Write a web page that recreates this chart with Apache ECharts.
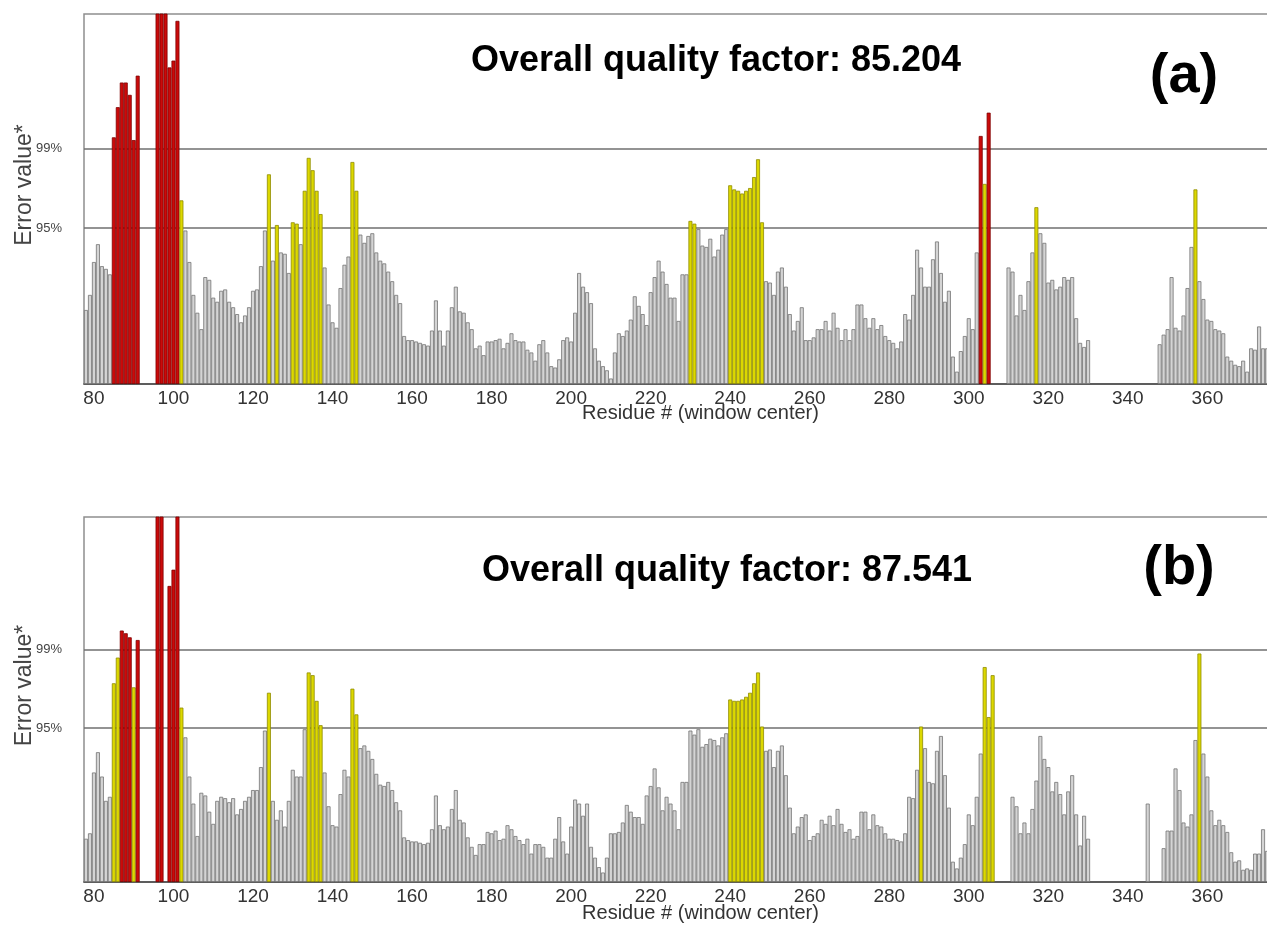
<!DOCTYPE html>
<html>
<head>
<meta charset="utf-8">
<script src="https://cdn.jsdelivr.net/npm/echarts@6/dist/echarts.min.js"></script>
<style>
  html, body { margin: 0; padding: 0; background: #ffffff; }
  #chart { width: 1267px; height: 945px; }
</style>
</head>
<body>
<div id="chart"></div>
<script>
// ---------------- data ----------------
const residueFirst = 78;
const residueLast = 375;
const xTickLabels = [80, 100, 120, 140, 160, 180, 200, 220, 240, 260, 280, 300, 320, 340, 360];
const thresholds = [11.38, 17.19];
const thresholdLabels = ['95%', '99%'];
const titleA = 'Overall quality factor: 85.204';
const titleB = 'Overall quality factor: 87.541';
const panelTagA = '(a)';
const panelTagB = '(b)';
const yName = 'Error value*';
const xName = 'Residue # (window center)';

// error values, residues 78..375 (null = no window)
const errA = [
  5.4, 6.5, 8.9, 10.2, 8.6, 8.4, 8.0, 18.0, 20.2, 22.0,        // 78-87
  22.0, 21.1, 17.8, 22.5, null, null, null, null, 27.5, 27.5,  // 88-97
  27.5, 23.1, 23.6, 26.5, 13.4, 11.2, 8.9, 6.5, 5.2, 4.0,      // 98-107
  7.8, 7.6, 6.3, 6.0, 6.8, 6.9, 6.0, 5.6, 5.1, 4.5,            // 108-117
  5.0, 5.6, 6.8, 6.9, 8.6, 11.2, 15.3, 9.0, 11.6, 9.6,         // 118-127
  9.5, 8.1, 11.8, 11.7, 10.2, 14.1, 16.5, 15.6, 14.1, 12.4,    // 128-137
  8.5, 5.8, 4.5, 4.1, 7.0, 8.7, 9.3, 16.2, 14.1, 10.9,         // 138-147
  10.3, 10.8, 11.0, 9.6, 9.0, 8.8, 8.2, 7.5, 6.5, 5.9,         // 148-157
  3.5, 3.2, 3.2, 3.1, 3.0, 2.9, 2.8, 3.9, 6.1, 3.9,            // 158-167
  2.8, 3.9, 5.6, 7.1, 5.3, 5.2, 4.5, 4.0, 2.6, 2.8,            // 168-177
  2.1, 3.1, 3.1, 3.2, 3.3, 2.6, 3.0, 3.7, 3.2, 3.1,            // 178-187
  3.1, 2.5, 2.3, 1.7, 2.9, 3.2, 2.3, 1.3, 1.2, 1.8,            // 188-197
  3.2, 3.4, 3.1, 5.2, 8.1, 7.1, 6.7, 5.9, 2.6, 1.7,            // 198-207
  1.3, 1.0, 0.4, 2.3, 3.7, 3.5, 3.9, 4.7, 6.4, 5.7,            // 208-217
  5.1, 4.3, 6.7, 7.8, 9.0, 8.2, 7.3, 6.3, 6.3, 4.6,            // 218-227
  8.0, 8.0, 11.9, 11.7, 11.3, 10.1, 10.0, 10.6, 9.3, 9.8,      // 228-237
  10.9, 11.3, 14.5, 14.2, 14.1, 13.9, 14.1, 14.3, 15.1, 16.4,  // 238-247
  11.8, 7.5, 7.4, 6.5, 8.2, 8.5, 7.1, 5.1, 3.9, 4.6,           // 248-257
  5.6, 3.2, 3.2, 3.4, 4.0, 4.0, 4.6, 3.9, 5.2, 4.1,            // 258-267
  3.2, 4.0, 3.2, 4.0, 5.8, 5.8, 4.8, 4.1, 4.8, 4.0,            // 268-277
  4.3, 3.5, 3.2, 3.0, 2.6, 3.1, 5.1, 4.7, 6.5, 9.8,            // 278-287
  8.5, 7.1, 7.1, 9.1, 10.4, 8.1, 6.0, 6.8, 2.0, 0.9,           // 288-297
  2.4, 3.5, 4.8, 4.0, 9.6, 18.1, 14.6, 19.8, null, null,       // 298-307
  null, null, 8.5, 8.2, 5.0, 6.5, 5.4, 7.5, 9.6, 12.9,         // 308-317
  11.0, 10.3, 7.4, 7.6, 6.9, 7.1, 7.8, 7.6, 7.8, 4.8,          // 318-327
  3.0, 2.7, 3.2, null, null, null, null, null, null, null,     // 328-337
  null, null, null, null, null, null, null, null, null, null,  // 338-347
  2.9, 3.6, 4.0, 7.8, 4.1, 3.9, 5.0, 7.0, 10.0, 14.2,          // 348-357
  7.5, 6.2, 4.7, 4.6, 4.0, 3.9, 3.7, 2.0, 1.7, 1.4,            // 358-367
  1.3, 1.7, 0.9, 2.6, 2.5, 4.2, 2.6, 2.6                       // 368-375
];

const errB = [
  3.2, 3.6, 8.1, 9.6, 7.8, 6.0, 6.3, 14.7, 16.6, 18.6,         // 78-87
  18.4, 18.1, 14.4, 17.9, null, null, null, null, 27.5, 27.5,  // 88-97
  null, 21.9, 23.1, 27.5, 12.9, 10.7, 7.8, 5.8, 3.4, 6.6,      // 98-107
  6.4, 5.2, 4.3, 6.0, 6.3, 6.2, 5.9, 6.2, 5.0, 5.4,            // 108-117
  6.0, 6.3, 6.8, 6.8, 8.5, 11.2, 14.0, 6.0, 4.6, 5.3,          // 118-127
  4.1, 6.0, 8.3, 7.8, 7.8, 11.3, 15.5, 15.3, 13.4, 11.6,       // 128-137
  8.1, 5.6, 4.2, 4.1, 6.5, 8.3, 7.8, 14.3, 12.4, 9.9,          // 138-147
  10.1, 9.7, 9.1, 8.0, 7.2, 7.1, 7.4, 6.8, 5.9, 5.3,           // 148-157
  3.3, 3.1, 3.0, 3.0, 2.9, 2.8, 2.9, 3.9, 6.4, 4.2,            // 158-167
  3.9, 4.1, 5.4, 6.8, 4.6, 4.4, 3.3, 2.6, 2.0, 2.8,            // 168-177
  2.8, 3.7, 3.6, 3.8, 3.1, 3.2, 4.2, 3.9, 3.4, 3.1,            // 178-187
  2.8, 3.2, 2.1, 2.8, 2.8, 2.6, 1.8, 1.8, 3.2, 4.8,            // 188-197
  3.0, 2.1, 4.1, 6.1, 5.8, 4.9, 5.8, 2.6, 1.8, 1.1,            // 198-207
  0.7, 1.8, 3.6, 3.6, 3.7, 4.4, 5.7, 5.2, 4.8, 4.8,            // 208-217
  4.3, 6.4, 7.1, 8.4, 7.0, 5.3, 6.3, 5.8, 5.3, 3.9,            // 218-227
  7.4, 7.4, 11.2, 10.9, 11.3, 10.0, 10.2, 10.6, 10.5, 10.1,    // 228-237
  10.7, 11.0, 13.5, 13.4, 13.4, 13.5, 13.7, 14.0, 14.7, 15.5,  // 238-247
  11.5, 9.7, 9.8, 8.5, 9.7, 10.1, 7.9, 5.5, 3.6, 4.1,          // 248-257
  4.8, 5.0, 3.1, 3.4, 3.6, 4.6, 4.3, 4.9, 4.2, 5.4,            // 258-267
  4.3, 3.7, 3.9, 3.2, 3.4, 5.2, 5.2, 3.9, 5.0, 4.2,            // 268-277
  4.1, 3.6, 3.2, 3.2, 3.1, 3.0, 3.6, 6.3, 6.2, 8.3,            // 278-287
  11.5, 9.9, 7.4, 7.3, 9.7, 10.8, 7.9, 5.5, 1.5, 1.0,          // 288-297
  1.8, 2.8, 5.0, 4.2, 6.3, 9.5, 15.9, 12.2, 15.3, null,        // 298-307
  null, null, null, 6.3, 5.6, 3.6, 4.4, 3.6, 5.4, 7.5,         // 308-317
  10.8, 9.1, 8.5, 6.7, 7.4, 6.5, 5.0, 6.7, 7.9, 5.0,           // 318-327
  2.7, 4.9, 3.2, null, null, null, null, null, null, null,     // 328-337
  null, null, null, null, null, null, null, 5.8, null, null,   // 338-347
  null, 2.5, 3.8, 3.8, 8.4, 6.8, 4.4, 4.1, 5.0, 10.5,          // 348-357
  16.9, 9.5, 7.8, 5.3, 4.2, 4.6, 4.2, 3.7, 2.2, 1.5,           // 358-367
  1.6, 0.9, 1.0, 0.9, 2.1, 2.1, 3.9, 2.3                       // 368-375
];

// ---------------- chart ----------------
const residues = [];
for (let r = residueFirst; r <= residueLast; r++) residues.push(String(r));

const STYLE = {
  gray:   { fill: '#d4d4d4', border: '#737373' },
  yellow: { fill: '#dcd800', border: '#8f8c00' },
  red:    { fill: '#cc0a0a', border: '#7d0000' }
};
function toItem(v) {
  if (v === null) return null;
  const s = v > thresholds[1] ? STYLE.red : (v > thresholds[0] ? STYLE.yellow : STYLE.gray);
  return { value: v, itemStyle: { color: s.fill, borderColor: s.border } };
}

const FONT = '"Liberation Sans", Arial, sans-serif';
const grids = [
  { left: 84, top: 14, right: -2, height: 370 },
  { left: 84, top: 517, right: -2, height: 365 }
];

function xAxisFor(i) {
  return {
    type: 'category', gridIndex: i, data: residues, boundaryGap: true,
    axisLine: { lineStyle: { color: '#444', width: 1.5 } },
    axisTick: { alignWithLabel: true, length: 5, lineStyle: { color: '#444' },
      interval: (idx, val) => Number(val) % 10 === 0 },
    axisLabel: { fontFamily: FONT, fontSize: 19, color: '#333', margin: 5,
      interval: (idx, val) => xTickLabels.indexOf(Number(val)) >= 0 },
    splitLine: { show: false },
    name: xName, nameLocation: 'middle', nameGap: i === 0 ? 19 : 21,
    nameMoveOverlap: false,
    nameTextStyle: { fontFamily: FONT, fontSize: 20, color: '#333', padding: [0, 0, 0, 48] }
  };
}
function yAxisFor(i) {
  return {
    type: 'value', gridIndex: i, min: 0, max: 27,
    axisLine: { show: false }, axisTick: { show: false }, splitLine: { show: false },
    axisLabel: { customValues: thresholds, fontFamily: FONT, fontSize: 13, color: '#444', margin: 22,
      formatter: v => thresholdLabels[Math.abs(v - thresholds[0]) < Math.abs(v - thresholds[1]) ? 0 : 1] },
    name: yName, nameLocation: 'middle', nameGap: 48,
    nameMoveOverlap: false,
    nameTextStyle: { fontFamily: FONT, fontSize: 23, color: '#444', padding: [0, 0, 0, 28] }
  };
}
function barSeries(i, arr) {
  return {
    type: 'bar', xAxisIndex: i, yAxisIndex: i,
    data: arr.map(toItem),
    barCategoryGap: '0%', barGap: '0%',
    itemStyle: { borderWidth: 0.8 },
    z: 3,
    markLine: {
      silent: true, symbol: ['none', 'none'], z: 1,
      label: { show: false },
      lineStyle: { color: '#6f6f6f', width: 1.6, type: 'solid' },
      data: thresholds.map(t => ({ yAxis: t }))
    }
  };
}

const option = {
  animation: false,
  backgroundColor: '#ffffff',
  grid: grids.map(g => Object.assign({ show: true, borderColor: '#8e8e8e', borderWidth: 1.5,
    containLabel: false, outerBoundsMode: 'none' }, g)),
  xAxis: [xAxisFor(0), xAxisFor(1)],
  yAxis: [yAxisFor(0), yAxisFor(1)],
  series: [barSeries(0, errA), barSeries(1, errB)],
  graphic: [
    { type: 'text', x: 716, y: 61, z: 10,
      style: { text: titleA, fontFamily: FONT, fontSize: 36, fontWeight: 'bold', fill: '#000', align: 'center', verticalAlign: 'middle' } },
    { type: 'text', x: 727, y: 571, z: 10,
      style: { text: titleB, fontFamily: FONT, fontSize: 36, fontWeight: 'bold', fill: '#000', align: 'center', verticalAlign: 'middle' } },
    { type: 'text', x: 1184, y: 77, z: 10,
      style: { text: panelTagA, fontFamily: FONT, fontSize: 56, fontWeight: 'bold', fill: '#000', align: 'center', verticalAlign: 'middle' } },
    { type: 'text', x: 1179, y: 569, z: 10,
      style: { text: panelTagB, fontFamily: FONT, fontSize: 56, fontWeight: 'bold', fill: '#000', align: 'center', verticalAlign: 'middle' } }
  ]
};

const chart = echarts.init(document.getElementById('chart'), null, { renderer: 'canvas' });
chart.setOption(option);
</script>
</body>
</html>
